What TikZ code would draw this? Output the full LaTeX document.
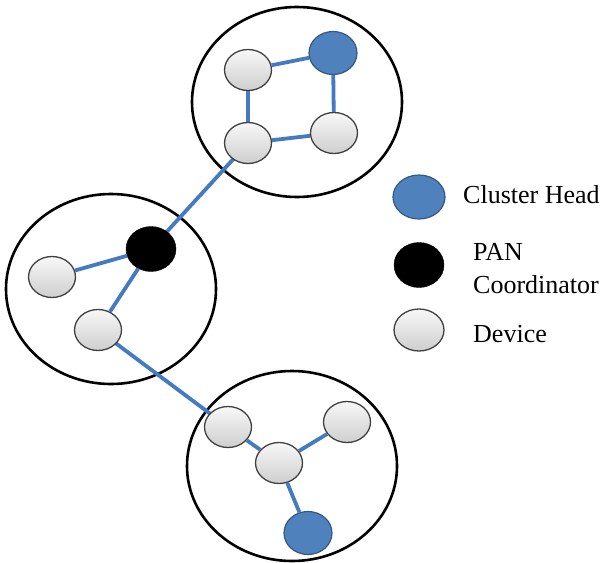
\documentclass[tikz,border=0pt]{standalone}
\usepackage{fontspec}
\setmainfont{Liberation Serif}
\usepackage{xcolor}
\usepackage{tikz}
\usetikzlibrary{shapes.geometric}
\definecolor{headblue}{RGB}{79,129,189}
\definecolor{headedge}{RGB}{52,88,132}
\definecolor{linkblue}{RGB}{68,122,194}
\begin{document}
\begin{tikzpicture}[x=1pt, y=-1pt,
    cluster/.style = {shape=ellipse, draw, line width=2.6pt,
      minimum width=210pt, minimum height=190pt},
    dev/.style = {shape=ellipse, draw=black!75, line width=1.3pt,
      minimum width=47pt, minimum height=41pt, inner sep=0pt,
      top color=gray!6, bottom color=gray!38},
    head/.style = {shape=ellipse, draw=headedge, line width=1.2pt,
      minimum width=48pt, minimum height=43pt, inner sep=0pt,
      fill=headblue},
    pan/.style = {shape=ellipse, draw, fill=black,
      minimum width=50pt, minimum height=45pt, inner sep=0pt},
    link/.style = {draw=linkblue, line width=3.8pt},
    legend/.style = {inner sep=0pt, align=left,
      font=\fontsize{26}{33}\selectfont}]
    \useasboundingbox (0,0) rectangle (604,562);
    \node[cluster] (topc) at (297,102) {};
    \node[cluster] (midc) at (111,289) {};
    \node[cluster] (lowc) at (292,466) {};

    \draw[link] (248,143) -- (151,249);
    \draw[link] (98,330) -- (228,427);

    \node[dev] (t1) at (248,70) {};
    \node[head] (t2) at (333,53) {};
    \node[dev] (t3) at (248,143) {};
    \node[dev] (t4) at (334,133) {};
    \node[pan] (m1) at (151,249) {};
    \node[dev] (m2) at (52,277) {};
    \node[dev] (m3) at (98,330) {};
    \node[dev] (b1) at (228,427) {};
    \node[dev] (b2) at (347,422) {};
    \node[dev] (b3) at (279,463) {};
    \node[head] (b4) at (308,533) {};

    \draw[link] (t1) -- (t2);
    \draw[link] (t1) -- (t3);
    \draw[link] (t2) -- (t4);
    \draw[link] (t3) -- (t4);
    \draw[link] (m1) -- (m2);
    \draw[link] (m1) -- (m3);
    \draw[link] (b1) -- (b3);
    \draw[link] (b2) -- (b3);
    \draw[link] (b3) -- (b4);

    \node[head, minimum width=52pt, minimum height=44pt] (keyhead) at (419,197) {};
    \node[pan] (keypan) at (419,265) {};
    \node[dev, minimum width=50pt, minimum height=42pt] (keydev) at (419,330) {};
    \node[legend, anchor=base west] (txthead) at (463,203) {Cluster Head};
    \node[legend, anchor=north west] (txtpan) at (473,243) {PAN\\Coordinator};
    \node[legend, anchor=base west] (txtdev) at (473,342) {Device};
\end{tikzpicture}
\end{document}
